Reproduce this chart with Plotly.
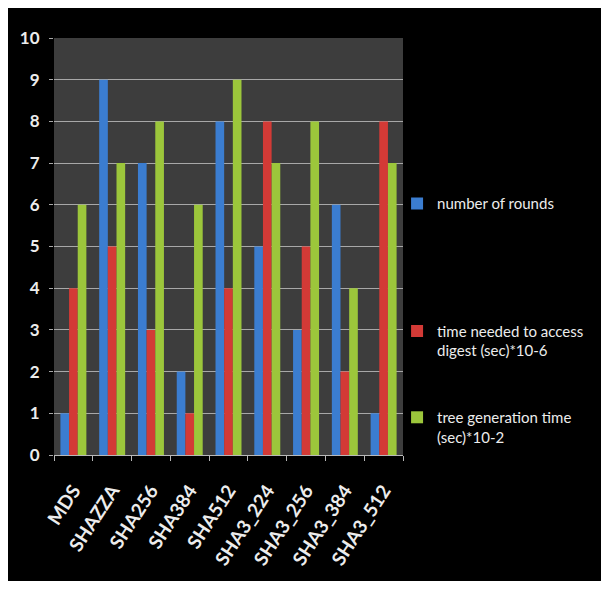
import plotly.graph_objects as go

categories = ["MDS", "SHAZZA", "SHA256", "SHA384", "SHA512",
              "SHA3_224", "SHA3_256", "SHA3_384", "SHA3_512"]
number_of_rounds = [1, 9, 7, 2, 8, 5, 3, 6, 1]
time_access_digest = [4, 5, 3, 1, 4, 8, 5, 2, 8]
tree_generation_time = [6, 7, 8, 6, 9, 7, 8, 4, 7]

series_names = ["number of rounds",
                "time needed to access<br>digest (sec)*10-6",
                "tree generation time<br>(sec)*10-2"]
series_values = [number_of_rounds, time_access_digest, tree_generation_time]
colors = ["#3b7dd0", "#d33a36", "#9cc63b"]
legend_ids = ["legend", "legend2", "legend3"]

FONT = "Lato, Roboto, sans-serif"

fig = go.Figure()
for name, vals, col, lg in zip(series_names, series_values, colors, legend_ids):
    fig.add_trace(go.Bar(x=categories, y=vals, name=name, marker_color=col,
                         marker_line_width=0, legend=lg, showlegend=True))

# page body has an 8px margin; figure origin is at page (8, 8)
OFF = 8
W, H = 609 - 2 * OFF, 589 - 2 * OFF
L, R, T, B = 44, 196, 30, 118
pw, ph = W - L - R, H - T - B

def py(page_y):
    return (H - B - (page_y - OFF)) / ph

def px(page_x):
    return (page_x - OFF - L) / pw

legend_common = dict(bgcolor="rgba(0,0,0,0)",
                     font=dict(color="#ececec", size=15, family=FONT),
                     xanchor="left", yanchor="top", valign="top", itemwidth=30,
                     tracegroupgap=0)

fig.update_layout(
    width=W, height=H,
    margin=dict(l=L, r=R, t=T, b=B),
    paper_bgcolor="#000000",
    plot_bgcolor="#3d3d3d",
    showlegend=True,
    bargap=0.33, bargroupgap=0,
    font=dict(family=FONT, color="#ececec"),
    legend=dict(x=px(399), y=py(190), **legend_common),
    legend2=dict(x=px(399), y=py(320), **legend_common),
    legend3=dict(x=px(399), y=py(408), **legend_common),
    xaxis=dict(
        tickangle=-57, tickfont=dict(size=19, color="#ececec", family=FONT, weight="bold"),
        ticklabelstandoff=16,
        showgrid=False, showline=True, linecolor="#b8b8b8", linewidth=1,
        ticks="outside", tickson="boundaries", ticklen=5, tickcolor="#b8b8b8",
    ),
    yaxis=dict(
        range=[0, 10], dtick=1, tick0=0,
        tickfont=dict(size=17, color="#ececec", family=FONT, weight="bold"),
        gridcolor="#a8a8a8", gridwidth=1, zeroline=False,
        ticks="outside", ticklen=4, tickcolor="#a8a8a8",
        ticklabelstandoff=6,
        showline=False,
    ),
)

fig.write_html("out.html")
